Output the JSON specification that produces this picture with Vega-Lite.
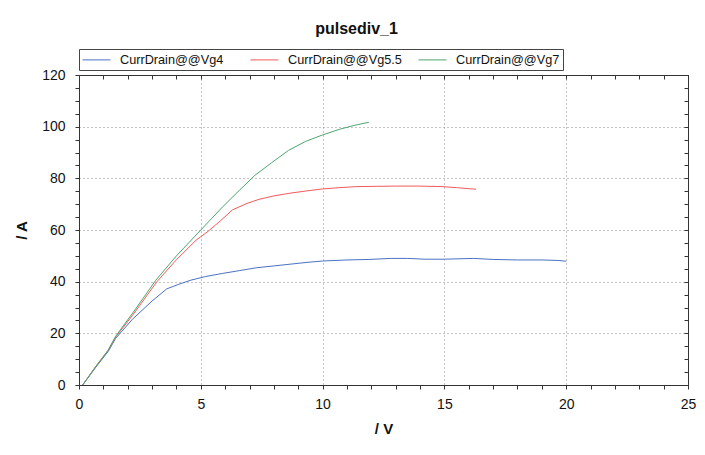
{
  "$schema": "https://vega.github.io/schema/vega-lite/v6.json",
  "width": 609,
  "height": 310,
  "autosize": "none",
  "padding": {"left": 79, "top": 75, "right": 17, "bottom": 70},
  "background": "white",
  "title": {"text": "pulsediv_1", "font": "Liberation Sans", "fontSize": 16, "fontWeight": "bold", "color": "#111", "dx": -27, "offset": 12},
  "config": {"view": {"stroke": null}},
  "data": {"values": [
    {"vd": 0.15, "id": 0, "series": "CurrDrain@@Vg4"},
    {"vd": 0.7, "id": 7, "series": "CurrDrain@@Vg4"},
    {"vd": 1.2, "id": 13, "series": "CurrDrain@@Vg4"},
    {"vd": 1.5, "id": 18, "series": "CurrDrain@@Vg4"},
    {"vd": 2.2, "id": 25.5, "series": "CurrDrain@@Vg4"},
    {"vd": 3.0, "id": 32.5, "series": "CurrDrain@@Vg4"},
    {"vd": 3.6, "id": 37.2, "series": "CurrDrain@@Vg4"},
    {"vd": 4.1, "id": 39, "series": "CurrDrain@@Vg4"},
    {"vd": 4.6, "id": 40.6, "series": "CurrDrain@@Vg4"},
    {"vd": 5.2, "id": 42, "series": "CurrDrain@@Vg4"},
    {"vd": 5.9, "id": 43.2, "series": "CurrDrain@@Vg4"},
    {"vd": 6.6, "id": 44.3, "series": "CurrDrain@@Vg4"},
    {"vd": 7.3, "id": 45.4, "series": "CurrDrain@@Vg4"},
    {"vd": 8.0, "id": 46.1, "series": "CurrDrain@@Vg4"},
    {"vd": 8.7, "id": 46.8, "series": "CurrDrain@@Vg4"},
    {"vd": 9.4, "id": 47.5, "series": "CurrDrain@@Vg4"},
    {"vd": 10.0, "id": 48.0, "series": "CurrDrain@@Vg4"},
    {"vd": 11.0, "id": 48.4, "series": "CurrDrain@@Vg4"},
    {"vd": 11.9, "id": 48.6, "series": "CurrDrain@@Vg4"},
    {"vd": 12.8, "id": 49.0, "series": "CurrDrain@@Vg4"},
    {"vd": 13.5, "id": 49.0, "series": "CurrDrain@@Vg4"},
    {"vd": 14.2, "id": 48.7, "series": "CurrDrain@@Vg4"},
    {"vd": 15.0, "id": 48.7, "series": "CurrDrain@@Vg4"},
    {"vd": 16.2, "id": 49.0, "series": "CurrDrain@@Vg4"},
    {"vd": 17.0, "id": 48.6, "series": "CurrDrain@@Vg4"},
    {"vd": 18.0, "id": 48.4, "series": "CurrDrain@@Vg4"},
    {"vd": 19.0, "id": 48.4, "series": "CurrDrain@@Vg4"},
    {"vd": 19.7, "id": 48.2, "series": "CurrDrain@@Vg4"},
    {"vd": 20.0, "id": 47.9, "series": "CurrDrain@@Vg4"},
    {"vd": 0.15, "id": 0, "series": "CurrDrain@@Vg5.5"},
    {"vd": 0.7, "id": 7.3, "series": "CurrDrain@@Vg5.5"},
    {"vd": 1.2, "id": 13.5, "series": "CurrDrain@@Vg5.5"},
    {"vd": 1.5, "id": 18.5, "series": "CurrDrain@@Vg5.5"},
    {"vd": 2.2, "id": 27, "series": "CurrDrain@@Vg5.5"},
    {"vd": 3.2, "id": 40, "series": "CurrDrain@@Vg5.5"},
    {"vd": 4.0, "id": 48.5, "series": "CurrDrain@@Vg5.5"},
    {"vd": 4.8, "id": 56, "series": "CurrDrain@@Vg5.5"},
    {"vd": 5.3, "id": 59.5, "series": "CurrDrain@@Vg5.5"},
    {"vd": 5.8, "id": 63.5, "series": "CurrDrain@@Vg5.5"},
    {"vd": 6.3, "id": 67.8, "series": "CurrDrain@@Vg5.5"},
    {"vd": 6.9, "id": 70.3, "series": "CurrDrain@@Vg5.5"},
    {"vd": 7.4, "id": 71.9, "series": "CurrDrain@@Vg5.5"},
    {"vd": 8.0, "id": 73.2, "series": "CurrDrain@@Vg5.5"},
    {"vd": 8.7, "id": 74.3, "series": "CurrDrain@@Vg5.5"},
    {"vd": 9.4, "id": 75.2, "series": "CurrDrain@@Vg5.5"},
    {"vd": 10.0, "id": 75.9, "series": "CurrDrain@@Vg5.5"},
    {"vd": 10.7, "id": 76.4, "series": "CurrDrain@@Vg5.5"},
    {"vd": 11.4, "id": 76.8, "series": "CurrDrain@@Vg5.5"},
    {"vd": 12.2, "id": 76.9, "series": "CurrDrain@@Vg5.5"},
    {"vd": 13.0, "id": 77.0, "series": "CurrDrain@@Vg5.5"},
    {"vd": 13.9, "id": 77.0, "series": "CurrDrain@@Vg5.5"},
    {"vd": 14.9, "id": 76.8, "series": "CurrDrain@@Vg5.5"},
    {"vd": 15.5, "id": 76.4, "series": "CurrDrain@@Vg5.5"},
    {"vd": 16.0, "id": 76.0, "series": "CurrDrain@@Vg5.5"},
    {"vd": 16.3, "id": 75.8, "series": "CurrDrain@@Vg5.5"},
    {"vd": 0.15, "id": 0, "series": "CurrDrain@@Vg7"},
    {"vd": 0.7, "id": 7.3, "series": "CurrDrain@@Vg7"},
    {"vd": 1.2, "id": 13.5, "series": "CurrDrain@@Vg7"},
    {"vd": 1.5, "id": 18.8, "series": "CurrDrain@@Vg7"},
    {"vd": 2.2, "id": 27.8, "series": "CurrDrain@@Vg7"},
    {"vd": 3.15, "id": 40.5, "series": "CurrDrain@@Vg7"},
    {"vd": 4.0, "id": 50, "series": "CurrDrain@@Vg7"},
    {"vd": 5.0, "id": 60, "series": "CurrDrain@@Vg7"},
    {"vd": 5.9, "id": 69, "series": "CurrDrain@@Vg7"},
    {"vd": 6.6, "id": 75.5, "series": "CurrDrain@@Vg7"},
    {"vd": 7.2, "id": 81, "series": "CurrDrain@@Vg7"},
    {"vd": 7.9, "id": 86, "series": "CurrDrain@@Vg7"},
    {"vd": 8.6, "id": 90.8, "series": "CurrDrain@@Vg7"},
    {"vd": 9.3, "id": 94.3, "series": "CurrDrain@@Vg7"},
    {"vd": 10.0, "id": 96.8, "series": "CurrDrain@@Vg7"},
    {"vd": 10.7, "id": 99, "series": "CurrDrain@@Vg7"},
    {"vd": 11.3, "id": 100.5, "series": "CurrDrain@@Vg7"},
    {"vd": 11.9, "id": 101.7, "series": "CurrDrain@@Vg7"}
  ]},
  "resolve": {"axis": {"x": "independent", "y": "independent"}},
  "layer": [
    {
      "mark": {"type": "line", "strokeWidth": 1, "strokeOpacity": 0},
      "encoding": {
        "x": {"field": "vd", "type": "quantitative", "scale": {"domain": [0, 25], "nice": false, "zero": false},
          "axis": {"orient": "top", "values": [0,1,2,3,4,5,6,7,8,9,10,11,12,13,14,15,16,17,18,19,20,21,22,23,24,25], "labels": false, "grid": false, "title": null, "tickSize": -4, "tickColor": "#333", "domainColor": "#333"}},
        "y": {"field": "id", "type": "quantitative", "scale": {"domain": [0, 120], "nice": false},
          "axis": {"orient": "right", "values": [0,5,10,15,20,25,30,35,40,45,50,55,60,65,70,75,80,85,90,95,100,105,110,115,120], "labels": false, "grid": false, "title": null, "tickSize": -4, "tickColor": "#333", "domainColor": "#333"}},
        "detail": {"field": "series"}
      }
    },
    {
      "mark": {"type": "line", "strokeWidth": 1},
      "encoding": {
        "x": {"field": "vd", "type": "quantitative", "scale": {"domain": [0, 25], "nice": false, "zero": false},
          "axis": {"orient": "bottom", "values": [0,1,2,3,4,5,6,7,8,9,10,11,12,13,14,15,16,17,18,19,20,21,22,23,24,25],
            "labelExpr": "datum.value % 5 === 0 ? datum.label : ''", "labelFlush": false, "labelOverlap": false,
            "grid": true, "gridColor": "#888", "gridDash": [1, 3],
            "gridOpacity": {"condition": {"test": "datum.value % 5 === 0 && datum.value > 0 && datum.value < 25", "value": 1}, "value": 0},
            "tickSize": 4, "tickColor": "#333", "domainColor": "#333",
            "labelFont": "Liberation Sans", "labelFontSize": 14, "labelColor": "#111", "labelPadding": 8,
            "title": "/ V", "titleFont": "Liberation Sans", "titleFontSize": 15, "titleFontWeight": "bold", "titleColor": "#111", "titlePadding": 10}},
        "y": {"field": "id", "type": "quantitative", "scale": {"domain": [0, 120], "nice": false},
          "axis": {"orient": "left", "values": [0,5,10,15,20,25,30,35,40,45,50,55,60,65,70,75,80,85,90,95,100,105,110,115,120],
            "labelExpr": "datum.value % 20 === 0 ? datum.label : ''", "labelFlush": false, "labelOverlap": false,
            "grid": true, "gridColor": "#888", "gridDash": [1, 3],
            "gridOpacity": {"condition": {"test": "datum.value % 20 === 0 && datum.value > 0 && datum.value < 120", "value": 1}, "value": 0},
            "tickSize": 4, "tickColor": "#333", "domainColor": "#333",
            "labelFont": "Liberation Sans", "labelFontSize": 14, "labelColor": "#111", "labelPadding": 10,
            "title": "/ A", "titleFont": "Liberation Sans", "titleFontSize": 15, "titleFontWeight": "bold", "titleColor": "#111", "titlePadding": 12}},
        "color": {"field": "series", "type": "nominal",
          "scale": {"domain": ["CurrDrain@@Vg4", "CurrDrain@@Vg5.5", "CurrDrain@@Vg7"], "range": ["#4a72c2", "#f25a5a", "#4ea56f"]},
          "legend": {"orient": "none", "legendX": 0, "legendY": -26, "direction": "horizontal", "title": null,
            "symbolType": "M-1,0H3", "symbolSize": 196, "symbolStrokeWidth": 1, "symbolFillColor": "transparent",
            "labelFont": "Liberation Sans", "labelFontSize": 12.7, "labelColor": "#111", "labelOffset": 23, "labelLimit": 200,
            "gridAlign": "all", "columnPadding": 14, "padding": 3, "strokeColor": "#444", "fillColor": "white"}}
      }
    }
  ]
}
